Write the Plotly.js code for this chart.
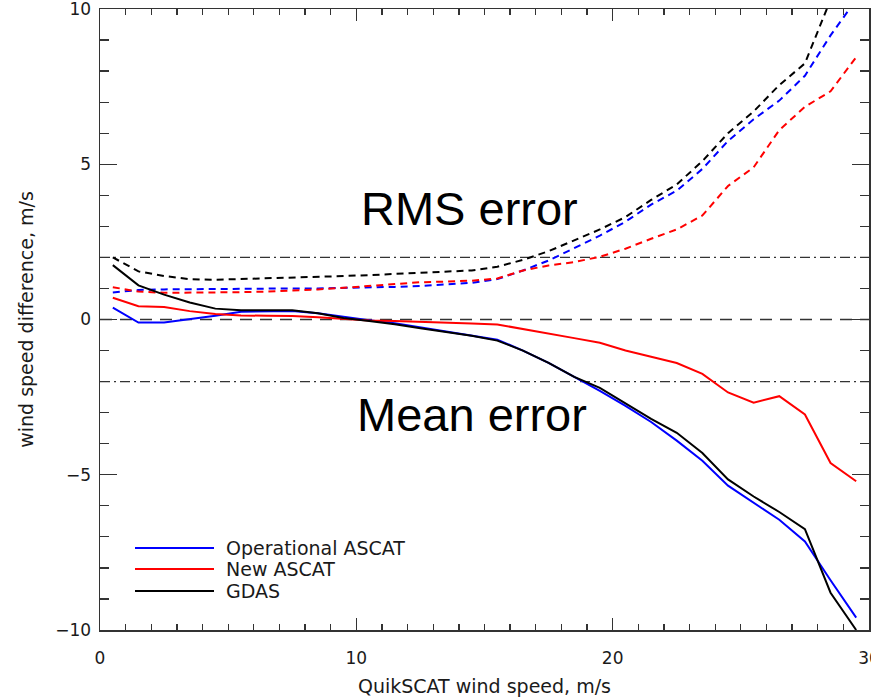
<!DOCTYPE html>
<html>
<head>
<meta charset="utf-8">
<script src="https://cdn.plot.ly/plotly-3.0.1.min.js"></script>
<style>html,body{margin:0;padding:0;background:#fff;}#chart{width:871px;height:700px;}</style>
</head>
<body>
<div id="chart"></div>
<script>
// QuikSCAT wind speed bins (m/s)
const windSpeed = [0.5,1.5,2.5,3.5,4.5,5.5,6.5,7.5,8.5,9.5,10.5,11.5,12.5,13.5,14.5,15.5,16.5,17.5,18.5,19.5,20.5,21.5,22.5,23.5,24.5,25.5,26.5,27.5,28.5,29.5];

const seriesNames = ["Operational ASCAT", "New ASCAT", "GDAS"];
const seriesColors = ["#0000ff", "#ff0000", "#000000"];

// Mean error (solid)
const meanOperational = [0.38,-0.1,-0.1,0.0,0.12,0.25,0.27,0.27,0.2,0.08,-0.02,-0.12,-0.25,-0.38,-0.5,-0.65,-1.0,-1.4,-1.85,-2.3,-2.78,-3.3,-3.9,-4.55,-5.35,-5.9,-6.45,-7.15,-8.4,-9.6];
const meanNew = [0.7,0.43,0.4,0.27,0.18,0.13,0.12,0.11,0.07,0.02,-0.03,-0.05,-0.07,-0.1,-0.13,-0.16,-0.3,-0.45,-0.6,-0.75,-1.0,-1.2,-1.4,-1.75,-2.35,-2.68,-2.47,-3.06,-4.62,-5.21];
const meanGDAS = [1.75,1.1,0.8,0.55,0.35,0.3,0.3,0.3,0.2,0.05,-0.05,-0.15,-0.28,-0.4,-0.52,-0.68,-1.0,-1.4,-1.85,-2.2,-2.7,-3.2,-3.65,-4.3,-5.15,-5.7,-6.2,-6.75,-8.8,-10.0];

// RMS error (dashed)
const rmsOperational = [0.87,0.95,0.97,0.98,0.98,0.99,0.99,1.0,1.0,1.01,1.02,1.05,1.08,1.12,1.18,1.3,1.58,1.9,2.3,2.7,3.15,3.7,4.15,4.85,5.75,6.45,7.05,7.85,9.15,10.3];
const rmsNew = [1.04,0.9,0.86,0.86,0.87,0.88,0.9,0.93,0.97,1.02,1.08,1.15,1.2,1.22,1.25,1.32,1.58,1.74,1.85,2.02,2.28,2.6,2.9,3.35,4.3,4.9,6.1,6.85,7.35,8.45];
const rmsGDAS = [2.0,1.55,1.4,1.3,1.28,1.3,1.32,1.35,1.38,1.4,1.43,1.47,1.5,1.53,1.58,1.7,1.92,2.2,2.55,2.9,3.3,3.85,4.35,5.1,6.0,6.7,7.55,8.25,10.3,12.5];

const dashDotLevels = [2, -2];
const dashedLevels = [0];

const xTicks = [0, 10, 20, 30];
const yTicks = [-10, -5, 0, 5, 10];

const textFont = "DejaVu Sans, sans-serif";
const axisCol = "#333333";
const textCol = "#1a1a1a";

const meanSeries = [meanOperational, meanNew, meanGDAS];
const rmsSeries = [rmsOperational, rmsNew, rmsGDAS];

const traces = [];
rmsSeries.forEach((ys, i) => {
  traces.push({x: windSpeed, y: ys, type: "scatter", mode: "lines", name: seriesNames[i] + " RMS",
    line: {color: seriesColors[i], width: 2, dash: "7px,5px"}, showlegend: false, hoverinfo: "skip"});
});
meanSeries.forEach((ys, i) => {
  traces.push({x: windSpeed, y: ys, type: "scatter", mode: "lines", name: seriesNames[i],
    line: {color: seriesColors[i], width: 2}, showlegend: false});
});

const shapes = [];
dashDotLevels.forEach(v => shapes.push({type: "line", xref: "paper", yref: "y", x0: 0, x1: 1, y0: v, y1: v,
  line: {color: axisCol, width: 1.3, dash: "10px,4px,2px,4px"}, layer: "below"}));
dashedLevels.forEach(v => shapes.push({type: "line", xref: "paper", yref: "y", x0: 0, x1: 1, y0: v, y1: v,
  line: {color: axisCol, width: 1.3, dash: "12px,8px"}, layer: "below"}));

// manual legend (long sample lines as in the original)
const plotL = 100, plotW = 769, plotT = 9, plotH = 621;
const px2paperX = px => (px - plotL) / plotW;
const px2paperY = py => (plotT + plotH - py) / plotH;
const legendRows = [548, 569, 591];
const annotations = [];
seriesNames.forEach((name, i) => {
  shapes.push({type: "line", xref: "paper", yref: "paper", x0: px2paperX(135), x1: px2paperX(214),
    y0: px2paperY(legendRows[i]), y1: px2paperY(legendRows[i]), line: {color: seriesColors[i], width: 2}});
  annotations.push({xref: "paper", yref: "paper", x: px2paperX(224), y: px2paperY(legendRows[i]),
    xanchor: "left", yanchor: "middle", showarrow: false, text: name,
    font: {family: textFont, size: 19, color: textCol}});
});
annotations.push({x: 14.4, y: 3.56, xref: "x", yref: "y", text: "RMS error", showarrow: false,
  xanchor: "center", yanchor: "middle", font: {family: "Liberation Sans, Arial, sans-serif", size: 47, color: "#000"}});
annotations.push({x: 14.5, y: -3.05, xref: "x", yref: "y", text: "Mean error", showarrow: false,
  xanchor: "center", yanchor: "middle", font: {family: "Liberation Sans, Arial, sans-serif", size: 47, color: "#000"}});

const layout = {
  width: 871, height: 700,
  margin: {l: 100, r: 2, t: 9, b: 70},
  paper_bgcolor: "#ffffff", plot_bgcolor: "#ffffff",
  showlegend: false,
  font: {family: textFont, color: textCol},
  xaxis: {
    range: [0, 30], tickvals: xTicks, ticks: "inside", ticklen: 12, tickwidth: 1.3, tickcolor: axisCol,
    showline: true, linecolor: axisCol, linewidth: 1.5, mirror: "ticks", showgrid: false, zeroline: false,
    minor: {dtick: 1, ticks: "inside", ticklen: 6, tickwidth: 1.3, tickcolor: axisCol, showgrid: false},
    tickfont: {family: textFont, size: 17, color: textCol}, ticklabelstandoff: 12, ticklabeloverflow: "allow",
    title: {text: "QuikSCAT wind speed, m/s", font: {family: textFont, size: 19, color: textCol}, standoff: 13}
  },
  yaxis: {
    range: [-10, 10], tickvals: yTicks, ticks: "inside", ticklen: 17, tickwidth: 1.3, tickcolor: axisCol,
    showline: true, linecolor: axisCol, linewidth: 1.5, mirror: "ticks", showgrid: false, zeroline: false,
    minor: {dtick: 1, ticks: "inside", ticklen: 9, tickwidth: 1.3, tickcolor: axisCol, showgrid: false},
    tickfont: {family: textFont, size: 17, color: textCol}, ticklabelstandoff: 4, ticklabeloverflow: "allow",
    title: {text: "wind speed difference, m/s", font: {family: textFont, size: 19, color: textCol}, standoff: 16}
  },
  shapes: shapes,
  annotations: annotations
};

Plotly.newPlot("chart", traces, layout, {displayModeBar: false, staticPlot: true});
</script>
</body>
</html>
